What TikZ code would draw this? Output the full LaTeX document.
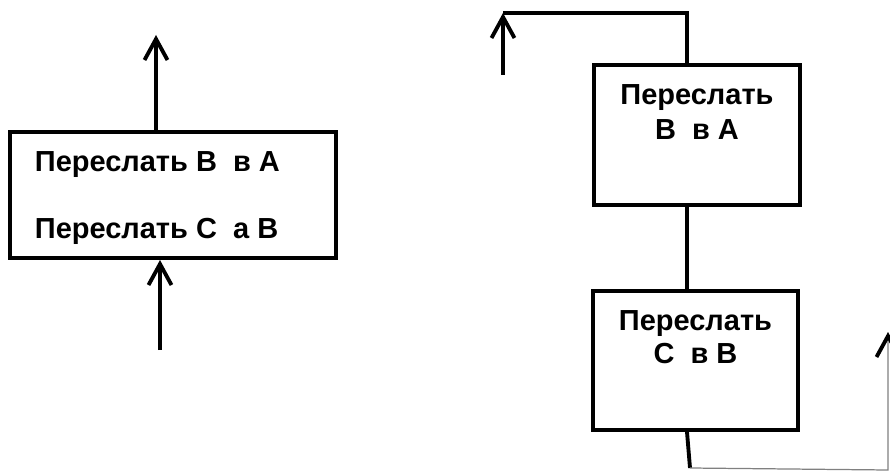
\documentclass[tikz,border=0pt]{standalone}
\usepackage{fontspec}
\setmainfont{Liberation Sans}
\usetikzlibrary{arrows.meta,positioning}
\tikzset{
  blk/.style={draw,line width=2.3pt,inner sep=0pt},
  lbl/.style={font=\fontsize{16.5}{20}\selectfont\bfseries,inner sep=0pt},
  arr/.style={-{Straight Barb[length=0.42cm,width=0.46cm,line width=2.2pt,color=black]}},
}
\begin{document}
\begin{tikzpicture}[x=0.02cm,y=-0.02cm,line width=2.2pt]
\useasboundingbox (0,0) rectangle (890,473);
% left: both moves in one block
\node[blk,minimum width=6.52cm,minimum height=2.52cm] (lb) at (173,195) {};
\node[lbl,anchor=base west] (l1) at (33,172) {Переслать B\ \ в A};
\node[lbl,anchor=base west] (l2) at (33,238) {Переслать C\ \ а B};
\coordinate (up1) at (156,35);
\coordinate (in1) at (160,350);
\draw[arr] (lb.north -| up1) -- (up1);
\draw[arr] (in1) -- (in1 |- lb.south);
% right: two blocks
\node[blk,minimum width=4.12cm,minimum height=2.8cm] (rb1) at (697,135) {};
\node[lbl,anchor=base] (r1) at (697,105) {Переслать};
\node[lbl,anchor=base] (r2) at (697,140) {B\ \ в A};
\node[blk,minimum width=4.1cm,minimum height=2.78cm] (rb2) at (695.5,360.5) {};
\node[lbl,anchor=base] (r3) at (695.5,330) {Переслать};
\node[lbl,anchor=base] (r4) at (695.5,363) {C\ \ в B};
\coordinate (c1) at (687,13);
\coordinate (c2) at (503,13);
\coordinate (in2) at (503,75);
\draw (rb1.north -| c1) -- (c1) -- (c2);
\draw[arr] (in2) -- (c2);
\draw (rb1.south -| c1) -- (rb2.north -| c1);
\coordinate (d1) at (690,468);
\coordinate (d2) at (888,470);
\coordinate (out2) at (888,332);
\draw (rb2.south -| c1) -- (d1);
\draw[arr,line width=0.7pt,black!50] (d1) -- (d2) -- (out2);
\end{tikzpicture}
\end{document}
